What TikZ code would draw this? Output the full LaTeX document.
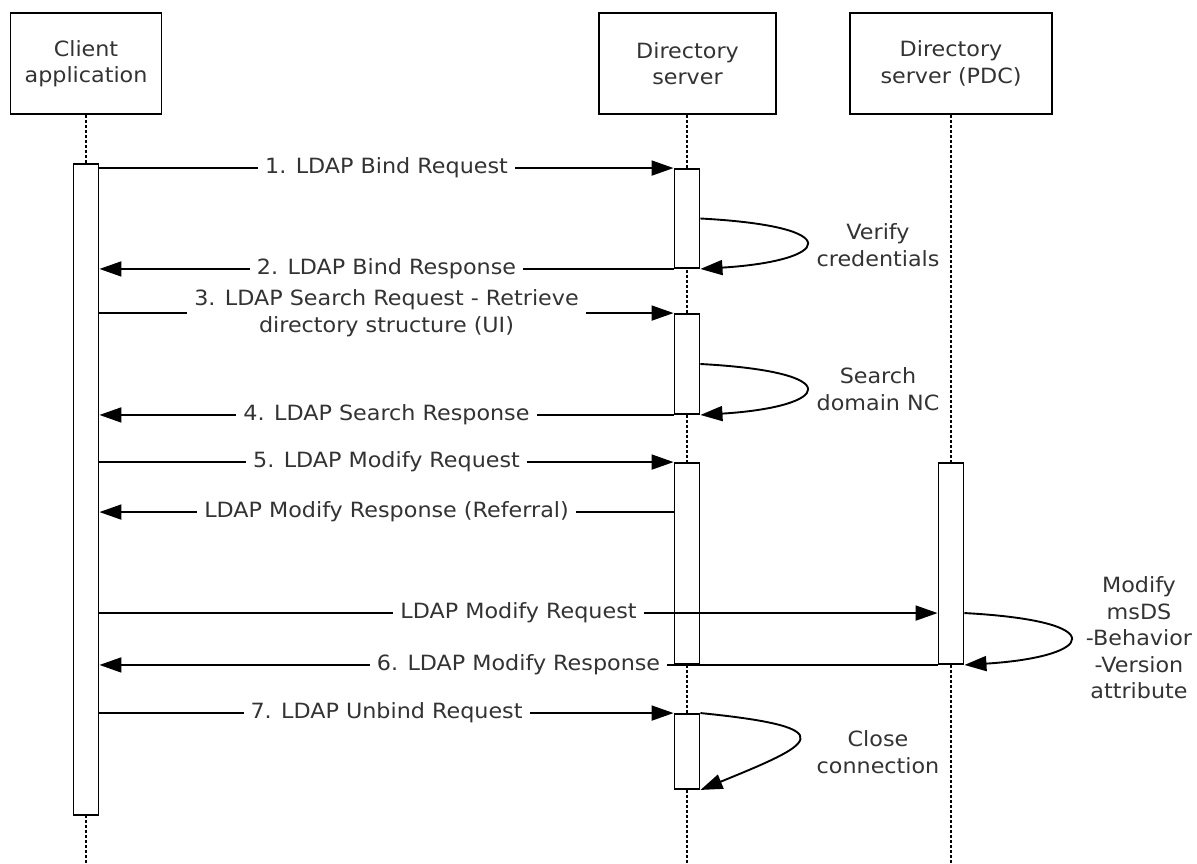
\documentclass[tikz,border=0pt]{standalone}
\usepackage{fontspec}
\setmainfont[FakeStretch=1.06]{DejaVu Sans}
\usetikzlibrary{arrows.meta}

\begin{document}
\begin{tikzpicture}[x=1pt, y=-1pt,
    every node/.style={font=\fontsize{21}{26.5}\selectfont, align=center, text=black!80},
    actor/.style={draw, line width=1.9pt, minimum height=101pt, inner sep=0pt},
    actbar/.style={draw, fill=white, line width=1.9pt, minimum width=25pt, inner sep=0pt},
    life/.style={line width=1.2pt, dash pattern=on 3pt off 2pt},
    msg/.style={line width=1.9pt, -{Triangle[length=22pt,width=15pt]}},
    lbl/.style={fill=white, inner xsep=7pt, inner ysep=1pt}]
    \useasboundingbox (0,0) rectangle (1197,863);

    % participants
    \node[actor, minimum width=151pt] (client) at (86,63.5) {Client\\application};
    \node[actor, minimum width=177pt] (dir) at (687.5,63.5) {Directory\\server};
    \node[actor, minimum width=202pt] (pdc) at (951,63.5) {Directory\\server (PDC)};

    % lifelines
    \coordinate (cend) at (86,863);
    \coordinate (dend) at (687,863);
    \coordinate (pend) at (951,863);
    \draw[life] (client.south) -- (cend);
    \draw[life] (dir.south -| dend) -- (dend);
    \draw[life] (pdc.south) -- (pend);

    % activation bars
    \node[actbar, minimum height=651pt] (cbar) at (86,489.5) {};
    \node[actbar, minimum height=99pt] (d1) at (687,218.5) {};
    \node[actbar, minimum height=100pt] (d2) at (687,364) {};
    \node[actbar, minimum height=201pt] (d3) at (687,563.5) {};
    \node[actbar, minimum height=75pt] (d4) at (687,751.5) {};
    \node[actbar, minimum height=201pt] (p1) at (951,563.5) {};

    \coordinate (ref) at ([yshift=-50pt]d3.north west);
    \coordinate (preq) at ([yshift=-151pt]p1.north west);
    \coordinate (ploop) at ([yshift=-151pt]p1.north east);

    % messages
    \draw[msg] (cbar.east |- d1.north west) -- node[lbl] {1. LDAP Bind Request} (d1.north west);
    \draw[msg] (d1.south west) -- node[lbl] {2. LDAP Bind Response} (cbar.east |- d1.south west);
    \draw[msg] (cbar.east |- d2.north west) -- node[lbl] {3. LDAP Search Request - Retrieve\\directory structure (UI)} (d2.north west);
    \draw[msg] (d2.south west) -- node[lbl] {4. LDAP Search Response} (cbar.east |- d2.south west);
    \draw[msg] (cbar.east |- d3.north west) -- node[lbl] {5. LDAP Modify Request} (d3.north west);
    \draw[msg] (ref) -- node[lbl] {LDAP Modify Response (Referral)} (cbar.east |- ref);
    \draw[msg] (cbar.east |- preq) -- node[lbl] {LDAP Modify Request} (preq);
    \draw[msg] (p1.south west) -- node[lbl] {6. LDAP Modify Response} (cbar.east |- p1.south west);
    \draw[msg] (cbar.east |- d4.north west) -- node[lbl] {7. LDAP Unbind Request} (d4.north west);

    % self calls
    \draw[msg] (d1.east) .. controls +(150,8) and +(130,-8) .. (d1.south east);
    \draw[msg] (d2.east) .. controls +(150,8) and +(130,-8) .. (d2.south east);
    \draw[msg] (ploop) .. controls +(150,8) and +(130,-8) .. (p1.south east);
    \draw[msg] (d4.north east) .. controls +(150,15) and +(110,-45) .. (d4.south east);

    \node (verify) at (878,245) {Verify\\credentials};
    \node (search) at (878,389) {Search\\domain NC};
    \node (modattr) at (1139,638) {Modify\\msDS\\-Behavior\\-Version\\attribute};
    \node (close) at (878,752) {Close\\connection};
\end{tikzpicture}
\end{document}
